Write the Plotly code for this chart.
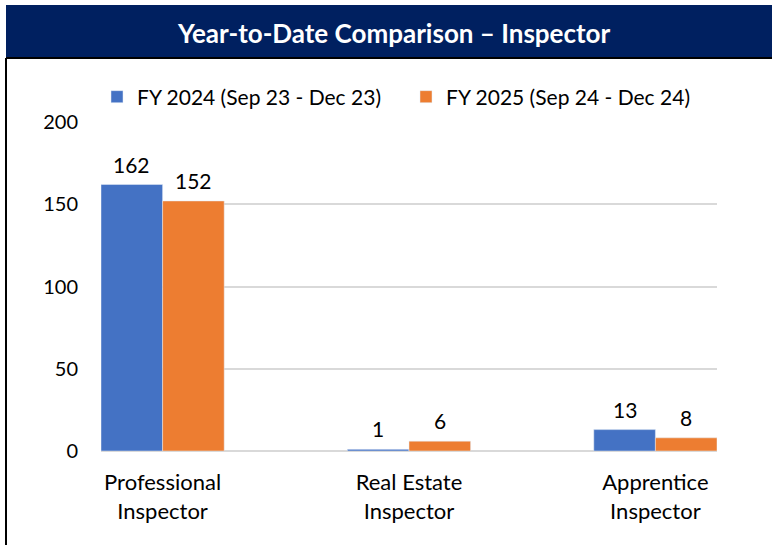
import plotly.graph_objects as go

categories = ["Professional<br>Inspector", "Real Estate<br>Inspector", "Apprentice<br>Inspector"]
fy2024 = [162, 1, 13]
fy2025 = [152, 6, 8]
series_names = ["FY 2024 (Sep 23 - Dec 23)", "FY 2025 (Sep 24 - Dec 24)"]
title_text = "Year-to-Date Comparison – Inspector"

W, H = 772, 545
L, R, T, B = 101, 55, 122, 94
pw, ph = W - L - R, H - T - B

def px_x(x):
    return (x - L) / pw

def px_y(y):
    return (H - B - y) / ph

font = "Lato, 'Open Sans', sans-serif"
colors = ["#4472C4", "#ED7D31"]

fig = go.Figure()
fig.add_bar(x=categories, y=fy2024, name=series_names[0], marker_color=colors[0])
fig.add_bar(x=categories, y=fy2025, name=series_names[1], marker_color=colors[1])

# data labels
cat_px = pw / 2.5
annotations = []
for vals, shift in ((fy2024, -0.125), (fy2025, 0.125)):
    for c, v in zip(categories, vals):
        annotations.append(dict(x=c, y=v, xref="x", yref="y", text=str(v), showarrow=False,
                                xshift=shift * cat_px, yanchor="bottom", yshift=6,
                                font=dict(size=21, color="#000000", family=font)))

annotations.append(dict(text="<b>" + title_text + "</b>", xref="paper", yref="paper",
                        x=px_x(394), y=px_y(33), xanchor="center", yanchor="middle",
                        showarrow=False, font=dict(size=26, color="white", family=font)))

fig.update_layout(
    width=W, height=H,
    margin=dict(l=L, r=R, t=T, b=B),
    paper_bgcolor="white", plot_bgcolor="white",
    font=dict(family=font, size=20, color="#000000"),
    barmode="group", bargap=0.5, bargroupgap=0,
    showlegend=True,
    legend=dict(orientation="h", x=px_x(97), xanchor="left", y=px_y(97), yanchor="middle",
                entrywidth=264, entrywidthmode="pixels",
                font=dict(size=21), bgcolor="rgba(0,0,0,0)", traceorder="normal"),
    xaxis=dict(range=[-0.25, 2.25], showline=False, ticks="", showgrid=False,
               tickfont=dict(size=22), ticklabelstandoff=16),
    yaxis=dict(range=[0, 200], dtick=50, showgrid=True, gridcolor="#D9D9D9", gridwidth=1.5,
               zeroline=True, zerolinecolor="#D9D9D9", zerolinewidth=2,
               ticks="", showline=False, tickfont=dict(size=20), ticklabelstandoff=22),
    shapes=[
        dict(type="rect", xref="paper", yref="paper", x0=px_x(6), x1=px_x(772),
             y0=px_y(58), y1=px_y(5), fillcolor="#002060", line=dict(width=0), layer="above"),
        dict(type="line", xref="paper", yref="paper", x0=px_x(6), x1=px_x(772),
             y0=px_y(58), y1=px_y(58), line=dict(color="#000000", width=2)),
        dict(type="line", xref="paper", yref="paper", x0=px_x(6), x1=px_x(6),
             y0=px_y(58), y1=px_y(545), line=dict(color="#000000", width=2)),
    ],
    annotations=annotations,
)

fig.write_html("out.html", config={"displayModeBar": False},
               post_script="document.body.style.margin='0';document.body.style.overflow='hidden';")
